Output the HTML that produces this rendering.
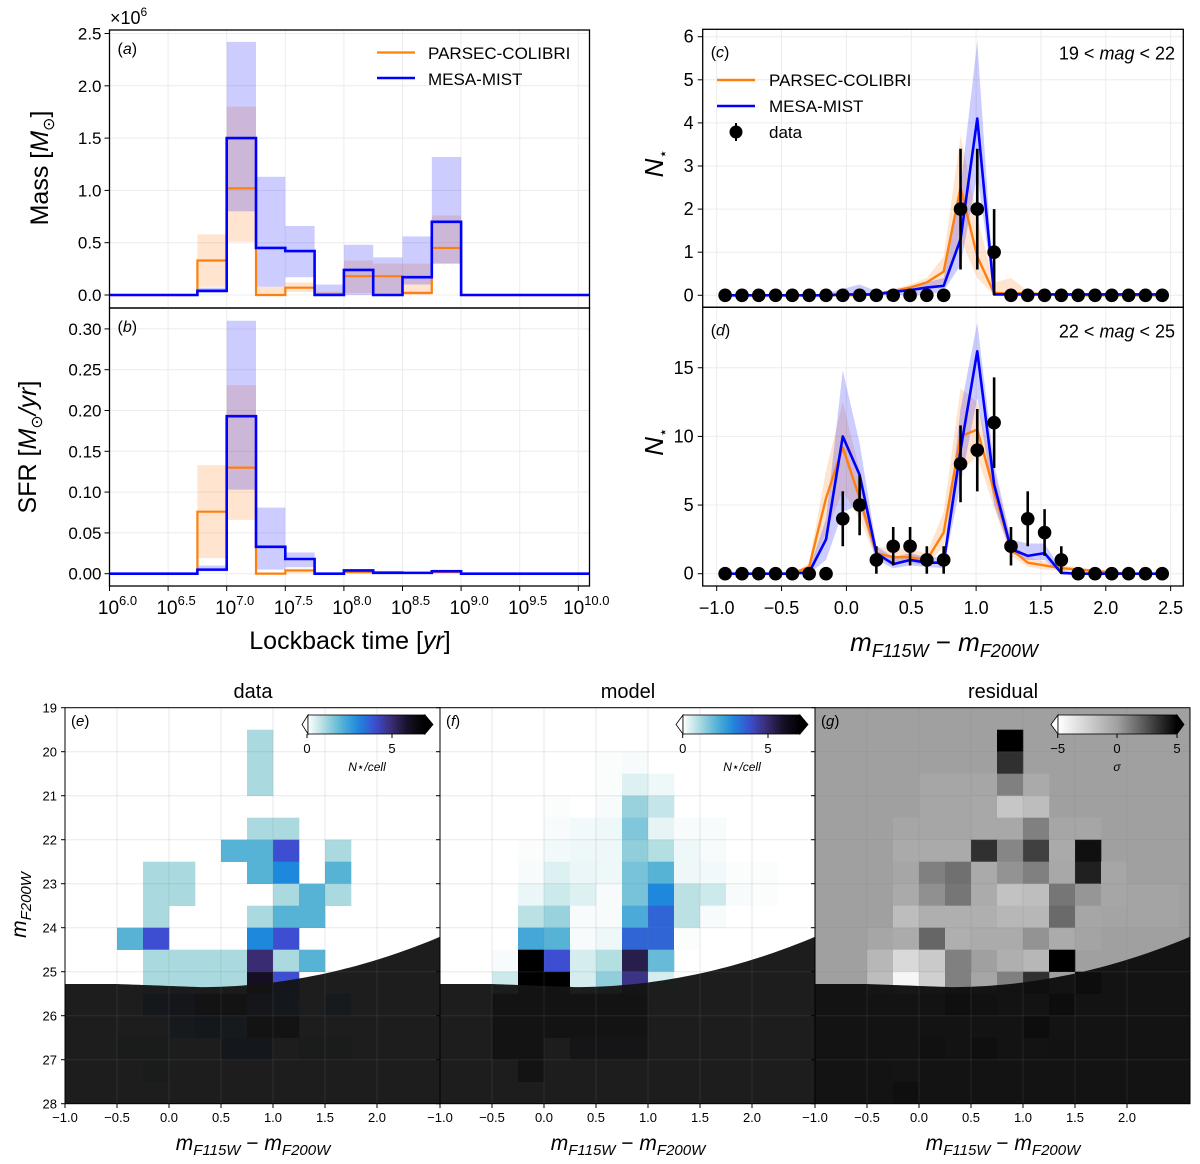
<!DOCTYPE html>
<html><head><meta charset="utf-8"><style>
html,body{margin:0;padding:0;background:#fff;}
svg{display:block;font-family:"Liberation Sans","DejaVu Sans",sans-serif;}
</style></head><body>
<svg id="fig" width="1200" height="1164" viewBox="0 0 1200 1164"></svg>
<script>
// ---------- data: panels a,b ----------
const ageEdges=[6.75,7.0,7.25,7.5,7.75,8.0,8.25,8.5,8.75,9.0];
const massOrange=[0.33,1.02,0.0,0.07,0.01,0.18,0.18,0.02,0.45];
const massBlue=[0.04,1.5,0.45,0.42,0.0,0.24,0.0,0.17,0.7];
const massOrangeLo=[0.08,0.51,0.0,0.03,0.0,0.02,0.0,0.0,0.30];
const massOrangeHi=[0.58,1.80,0.08,0.12,0.03,0.33,0.30,0.30,0.76];
const massBlueLo=[0.02,0.80,0.08,0.17,0.0,0.0,0.0,0.10,0.30];
const massBlueHi=[0.07,2.42,1.13,0.66,0.10,0.48,0.36,0.56,1.32];
const sfrOrange=[0.076,0.130,0.0,0.004,0.0,0.002,0.002,0.001,0.002];
const sfrBlue=[0.005,0.193,0.033,0.018,0.0,0.004,0.001,0.001,0.003];
const sfrOrangeLo=[0.019,0.066,0,0.001,0,0,0,0,0];
const sfrOrangeHi=[0.133,0.231,0.002,0.006,0.001,0.004,0.003,0.002,0.003];
const sfrBlueLo=[0.003,0.103,0.005,0.008,0,0.001,0,0,0.001];
const sfrBlueHi=[0.010,0.310,0.081,0.026,0.001,0.005,0.003,0.002,0.005];
const ageTicks=["6.0","6.5","7.0","7.5","8.0","8.5","9.0","9.5","10.0"];
const massTicks=["0.0","0.5","1.0","1.5","2.0","2.5"];
const sfrTicks=["0.00","0.05","0.10","0.15","0.20","0.25","0.30"];
// ---------- data: panels c,d ----------
const colorCenters=[-0.935,-0.805,-0.676,-0.546,-0.417,-0.287,-0.157,-0.028,0.102,0.231,0.361,0.491,0.620,0.750,0.880,1.009,1.139,1.269,1.398,1.528,1.657,1.787,1.917,2.046,2.176,2.306,2.435];
const cData=[0,0,0,0,0,0,0,0,0,0,0,0,0,0,2,2,1,0,0,0,0,0,0,0,0,0,0];
const cErr=[0,0,0,0,0,0,0,0,0,0,0,0,0,0,1.4,1.4,1,0,0,0,0,0,0,0,0,0,0];
const cOrange=[0,0,0,0,0,0,0,0,0,0.02,0.1,0.18,0.3,0.55,2.5,0.9,0.05,0.05,0.05,0.02,0.02,0,0,0,0,0,0];
const cOrangeLo=[0,0,0,0,0,0,0,0,0,0,0.05,0.1,0.15,0.3,1.3,0.4,0,0,0,0,0,0,0,0,0,0,0];
const cOrangeHi=[0,0,0,0,0,0,0,0,0,0.05,0.15,0.25,0.4,0.9,3.7,1.8,0.3,0.4,0.1,0.05,0,0,0,0,0,0,0];
const cBlue=[0,0,0,0,0,0,0,0.02,0.02,0.02,0.08,0.12,0.18,0.22,1.3,4.1,0.02,0.02,0.02,0.02,0.02,0.02,0.02,0.02,0.02,0.02,0.02];
const cBlueLo=[0,0,0,0,0,0,0,0,0,0,0,0,0,0.1,0.7,2.8,0,0,0,0,0,0,0,0,0,0,0];
const cBlueHi=[0,0,0,0,0,0,0.05,0.15,0.25,0.1,0.1,0.15,0.3,0.4,2.5,5.9,0.1,0.05,0.05,0.05,0.05,0.05,0.05,0.05,0.05,0.05,0.05];
const dData=[0,0,0,0,0,0,0,4,5,1,2,2,1,1,8,9,11,2,4,3,1,0,0,0,0,0,0];
const dErr=[0,0,0,0,0,0,0,2,2.2,1,1.4,1.4,1,1,2.8,3,3.3,1.4,2,1.7,1,0,0,0,0,0,0];
const dOrange=[0,0,0,0,0,0.5,5.5,9.2,5.5,1.5,1.2,1.2,1.0,3.0,10,10.5,6,1.8,0.8,0.6,0.4,0.3,0.2,0.1,0,0,0];
const dOrangeLo=[0,0,0,0,0,0.2,3,6,4,1,0.8,0.8,0.6,2,7.5,8.5,4.8,1.3,0.5,0.3,0.2,0.1,0,0,0,0,0];
const dOrangeHi=[0,0,0,0,0,0.8,7.5,12.5,7.5,2,1.8,1.8,1.5,4.5,13.5,12.5,7.5,2.3,1.2,0.9,0.6,0.5,0.3,0.2,0,0,0];
const dBlue=[0,0,0,0,0,0.1,2.5,10,7.2,1.5,0.7,1.0,0.8,0.8,9,16.2,6.5,1.8,1.3,1.5,0.05,0,0,0,0,0,0];
const dBlueLo=[0,0,0,0,0,0,1,4.5,5,1,0.4,0.6,0.5,0.4,6.5,12.8,5,1.5,1.0,1.0,0,0,0,0,0,0,0];
const dBlueHi=[0,0,0,0,0,0.3,4,14.8,9.5,2,1.2,1.5,1.2,1.2,12,18.3,8,2.5,2.2,2.2,0.3,0,0,0,0,0,0];
const colorTicks=["−1.0","−0.5","0.0","0.5","1.0","1.5","2.0","2.5"];
const colorTickVals=[-1,-0.5,0,0.5,1,1.5,2,2.5];
const cTicks=[0,1,2,3,4,5,6];
const dTicks=[0,5,10,15];
// ---------- data: heatmaps (rows mag 19..28 step 0.5, cols color -1..2.75 step 0.25) ----------
const gridData=[
[0,0,0,0,0,0,0,0,0,0,0,0,0,0,0],
[0,0,0,0,0,0,0,1,0,0,0,0,0,0,0],
[0,0,0,0,0,0,0,1,0,0,0,0,0,0,0],
[0,0,0,0,0,0,0,1,0,0,0,0,0,0,0],
[0,0,0,0,0,0,0,0,0,0,0,0,0,0,0],
[0,0,0,0,0,0,0,1,1,0,0,0,0,0,0],
[0,0,0,0,0,0,2,2,4,0,1,0,0,0,0],
[0,0,0,1,1,0,0,2,3,0,2,0,0,0,0],
[0,0,0,1,1,0,0,0,1,2,1,0,0,0,0],
[0,0,0,1,0,0,0,1,2,2,0,0,0,0,0],
[0,0,2,4,0,0,0,3,4,0,0,0,0,0,0],
[0,0,0,1,1,1,1,5,1,2,0,0,0,0,0],
[0,0,0,1,1,1,1,6,4,0,0,0,0,0,0],
[0,0,0,3,4,7,6,4,3,0,2,0,0,0,0],
[0,0,0,0,2,3,2,7,6,0,0,0,0,0,0],
[0,0,1,1,0,0,3,3,0,1,1,0,0,0,0],
[0,0,0,1,0,0,0,0,0,0,0,0,0,0,0],
[0,0,0,0,0,0,0,0,0,0,0,0,0,0,0]];
const gridModel=[
[0,0,0,0,0,0,0,0,0,0,0,0,0,0,0],
[0,0,0,0,0,0,0,0,0,0,0,0,0,0,0],
[0,0,0,0,0,0,0.05,0.1,0,0,0,0,0,0,0],
[0,0,0,0,0,0,0.05,0.4,0.2,0,0,0,0,0,0],
[0,0,0,0,0.05,0,0.1,1.2,0.7,0,0,0,0,0,0],
[0,0,0,0,0.1,0.15,0.2,1.5,0.3,0.1,0.1,0,0,0,0],
[0,0,0,0.05,0.15,0.2,0.2,1.3,0.9,0.2,0.1,0,0,0,0],
[0,0,0,0.1,0.4,0.25,0.2,1.6,2.0,0.2,0.15,0.05,0.05,0,0],
[0,0,0,0.25,0.6,0.4,0.1,1.6,3.0,0.8,0.6,0.1,0.05,0,0],
[0,0,0,0.8,1.2,0.1,0.1,2.2,3.6,0.8,0.1,0,0,0,0],
[0,0,0,2.3,2.0,0.1,0.2,3.6,3.6,0.05,0,0,0,0,0],
[0,0,0.1,7,4,0.5,0.9,5.5,1.8,0,0,0,0,0,0],
[0,0,0.6,7,7,0.5,1.3,4.8,0.5,0,0,0,0,0,0],
[0,0,6,7,7,6,6.5,6.5,0,0,0,0,0,0,0],
[0,0,7,7,7,6.5,7,6.5,0,0,0,0,0,0,0],
[0,0,6,7,0,5,5,5,0,0,0,0,0,0,0],
[0,0,0,6,0,0,0,0,0,0,0,0,0,0,0],
[0,0,0,0,0,0,0,0,0,0,0,0,0,0,0]];
const gridResid=[
[0,0,0,0,0,0,0,0,0,0,0,0,0,0,0],
[0,0,0,0,0,0,0,5,0,0,0,0,0,0,0],
[0,0,0,0,0,0,0,3.5,0,0,0,0,0,0,0],
[0,0,0,0,-0.3,-0.3,-0.3,1,-0.5,0,0,0,0,0,0],
[0,0,0,0,-0.3,-0.3,-0.4,-2,-1.5,0,0,0,0,0,0],
[0,0,0,-0.3,-0.3,-0.3,-0.4,-0.4,1,-0.3,-0.3,0,0,0,0],
[0,0,0,-0.5,-0.5,-0.5,3.5,0.8,3,-0.5,4.5,0,0,0,0],
[0,0,0,-0.3,1,1.5,-0.5,0.4,1,-0.4,4,-0.3,0,0,0],
[0,0,0,-0.5,0.5,1.3,-0.6,-1.8,-1.6,1.3,0.3,-0.3,-0.2,-0.2,0],
[0,0,0,-1.5,-0.8,-0.8,-0.8,-1.2,-1.2,1.7,-0.3,-0.2,-0.2,-0.2,0],
[0,0,-0.3,-0.6,1.8,-0.8,-0.6,-0.6,0.4,-0.6,-0.2,0,0,0,0],
[0,0,-1.2,-3,-2.2,1,0,-0.8,-1.2,5,0,0,0,0,0],
[0,0,-1.5,-4.5,-2.5,1,-0.3,1,3.5,0,5,0,0,0,0],
[0,0,0,0,0,3,2,0,0,5,0,0,0,0,0],
[0,0,0,0,0,0,0,0,5,0,0,0,0,0,0],
[0,0,0,0,2,0,3,0,0,1,0,0,0,0,0],
[0,0,0,-1,0,0,0,0,0,0,0,0,0,0,0],
[0,0,0,3,0,0,0,0,0,0,0,0,0,0,0]];
const magTicks=[19,20,21,22,23,24,25,26,27,28];
const heatTicks=["−1.0","−0.5","0.0","0.5","1.0","1.5","2.0"];
const heatTickVals=[-1,-0.5,0,0.5,1,1.5,2];

// ---------- helpers ----------
const NS='http://www.w3.org/2000/svg';
const svg=document.getElementById('fig');
function mk(tag,attrs,parent){const e=document.createElementNS(NS,tag);for(const k in attrs)e.setAttribute(k,attrs[k]);(parent||svg).appendChild(e);return e;}
function txt(x,y,s,size,anchor,parent,extra){const e=mk('text',Object.assign({x:x,y:y,'font-size':size,'text-anchor':anchor||'middle',fill:'#000'},extra||{}),parent);e.textContent=s;return e;}
function tsp(parent,s,attrs){const t=mk('tspan',attrs||{},parent);t.textContent=s;return t;}

// ================= panels a & b =================
const AX0=109.5, AX1=589.5;
const ax=v=>AX0+(v-6.0)*117.2;
const aY=v=>295-v*104.6;
const bY=v=>573.7-v*816;
function stepPath(vals,yf){let d=`M${AX0},${yf(0)} L${ax(ageEdges[0])},${yf(0)}`;for(let i=0;i<vals.length;i++){d+=` L${ax(ageEdges[i])},${yf(vals[i])} L${ax(ageEdges[i+1])},${yf(vals[i])}`;}d+=` L${ax(ageEdges[ageEdges.length-1])},${yf(0)} L${AX1},${yf(0)}`;return d;}
function histPanel(name,top,bot,yf,ticks,tickVals,lo1,hi1,lo2,hi2,v1,v2,label){
  const g=mk('g',{});
  
  
  for(const t of [6,6.5,7,7.5,8,8.5,9,9.5,10]){const l=mk('line',{x1:ax(t),x2:ax(t),y1:top,y2:bot,stroke:'#ececec','stroke-width':1},g);}
  tickVals.forEach((v,i)=>{const l=mk('line',{x1:AX0,x2:AX1,y1:yf(v),y2:yf(v),stroke:'#ececec','stroke-width':1},g);
    const tk=mk('line',{x1:AX0-5,x2:AX0,y1:yf(v),y2:yf(v),stroke:'#000'},g);
    const tl=txt(AX0-8,yf(v)+6,ticks[i],17,'end',g);});
  for(let i=0;i<v1.length;i++){
    const r1=mk('rect',{x:ax(ageEdges[i]),width:ax(ageEdges[i+1])-ax(ageEdges[i]),y:yf(hi1[i]),height:Math.max(0,yf(lo1[i])-yf(hi1[i])),fill:'#ff7f0e','fill-opacity':0.2},g);
    
    const r2=mk('rect',{x:ax(ageEdges[i]),width:ax(ageEdges[i+1])-ax(ageEdges[i]),y:yf(hi2[i]),height:Math.max(0,yf(lo2[i])-yf(hi2[i])),fill:'#0000ff','fill-opacity':0.2},g);
    
  }
  const p1=mk('path',{d:stepPath(v1,yf),fill:'none',stroke:'#ff7f0e','stroke-width':2.2},g);
  
  const p2=mk('path',{d:stepPath(v2,yf),fill:'none',stroke:'#0000ff','stroke-width':2.6},g);
  
  const fr=mk('rect',{x:AX0,y:top,width:AX1-AX0,height:bot-top,fill:'none',stroke:'#000','stroke-width':1.3},g);
  
  const pl=txt(AX0+8,top+24,'',16,'start',g);tsp(pl,'(');tsp(pl,label,{'font-style':'italic'});tsp(pl,')');
  
  return g;
}
histPanel('mass-panel',30,308,aY,massTicks,[0,0.5,1,1.5,2,2.5],massOrangeLo,massOrangeHi,massBlueLo,massBlueHi,massOrange,massBlue,'a');
histPanel('sfr-panel',308,586,bY,sfrTicks,[0,0.05,0.1,0.15,0.2,0.25,0.3],sfrOrangeLo,sfrOrangeHi,sfrBlueLo,sfrBlueHi,sfrOrange,sfrBlue,'b');
ageTicks.forEach(s=>{const v=parseFloat(s);const tk=mk('line',{x1:ax(v),x2:ax(v),y1:586,y2:591,stroke:'#000'});
  const t=txt(ax(v)+8,614,'',19,'middle');tsp(t,'10');tsp(t,s,{'font-size':13,dy:-9});});
{const t=txt(110,24,'',18,'start');tsp(t,'×10');tsp(t,'6',{'font-size':12,dy:-8});}
{const t=txt(0,0,'',25,'middle',svg,{transform:'translate(48,168) rotate(-90)'});tsp(t,'Mass [');tsp(t,'M',{'font-style':'italic'});tsp(t,'⊙',{'font-size':16,dy:6});tsp(t,']',{dy:-6});}
{const t=txt(0,0,'',25,'middle',svg,{transform:'translate(36,447) rotate(-90)'});tsp(t,'SFR [');tsp(t,'M',{'font-style':'italic'});tsp(t,'⊙',{'font-size':16,dy:6});tsp(t,'/yr',{dy:-6,'font-style':'italic'});tsp(t,']');}
{const t=txt(350,649,'',25,'middle');tsp(t,'Lockback time [');tsp(t,'yr',{'font-style':'italic'});tsp(t,']');}
{const g=mk('g',{});
 const l1=mk('line',{x1:377,x2:415,y1:52.5,y2:52.5,stroke:'#ff7f0e','stroke-width':2.2},g);
 const t1=txt(428,59,'PARSEC-COLIBRI',17,'start',g);
 const l2=mk('line',{x1:377,x2:415,y1:78,y2:78,stroke:'#0000ff','stroke-width':2.6},g);
 const t2=txt(428,85,'MESA-MIST',17,'start',g);}

// ================= panels c & d =================
const CX0=702.7, CX1=1183.3;
const cx=v=>716.7+(v+1)*129.7;
const cY=v=>295.3-v*43.1;
const dY=v=>573.7-v*13.73;
function linePanel(name,top,bot,yf,ticks,data,err,o,oLo,oHi,b,bLo,bHi,label,rangeTxt){
  const g=mk('g',{});
  
  
  colorTickVals.forEach(v=>{const l=mk('line',{x1:cx(v),x2:cx(v),y1:top,y2:bot,stroke:'#ececec'},g);});
  ticks.forEach(v=>{const l=mk('line',{x1:CX0,x2:CX1,y1:yf(v),y2:yf(v),stroke:'#ececec'},g);
    const tk=mk('line',{x1:CX0-5,x2:CX0,y1:yf(v),y2:yf(v),stroke:'#000'},g);
    const tl=txt(CX0-9,yf(v)+6,String(v),18,'end',g);});
  function band(lo,hi,col,nm){let pts=[];for(let i=0;i<colorCenters.length;i++)pts.push(cx(colorCenters[i])+','+yf(hi[i]));for(let i=colorCenters.length-1;i>=0;i--)pts.push(cx(colorCenters[i])+','+yf(lo[i]));
    const p=mk('polygon',{points:pts.join(' '),fill:col,'fill-opacity':0.2},g);}
  band(oLo,oHi,'#ff7f0e','parsec-band');band(bLo,bHi,'#0000ff','mist-band');
  function line(v,col,w,nm){const p=mk('polyline',{points:v.map((y,i)=>cx(colorCenters[i])+','+yf(y)).join(' '),fill:'none',stroke:col,'stroke-width':w,'stroke-linejoin':'round'},g);}
  line(o,'#ff7f0e',2.4,'parsec-colibri-line');line(b,'#0000ff',2.6,'mesa-mist-line');
  for(let i=0;i<data.length;i++){
    if(err[i]>0){const e=mk('line',{x1:cx(colorCenters[i]),x2:cx(colorCenters[i]),y1:yf(Math.max(0,data[i]-err[i])),y2:yf(data[i]+err[i]),stroke:'#000','stroke-width':2.6},g);}
    const c=mk('circle',{cx:cx(colorCenters[i]),cy:yf(data[i]),r:6.8,fill:'#000'},g);
  }
  const fr=mk('rect',{x:CX0,y:top,width:CX1-CX0,height:bot-top,fill:'none',stroke:'#000','stroke-width':1.3},g);
  const pl=txt(CX0+8,top+28,'',16,'start',g);tsp(pl,'(');tsp(pl,label,{'font-style':'italic'});tsp(pl,')');
  const rt=txt(1175,top+30,'',18,'end',g);tsp(rt,rangeTxt[0]+' < ');tsp(rt,'mag',{'font-style':'italic'});tsp(rt,' < '+rangeTxt[1]);
  const yl=txt(0,0,'',26,'middle',g,{transform:`translate(${663},${(top+bot)/2-5}) rotate(-90)`});tsp(yl,'N',{'font-style':'italic'});tsp(yl,'⋆',{'font-size':15,dy:5});
}
linePanel('color-panel-bright',29.3,307.3,cY,cTicks,cData,cErr,cOrange,cOrangeLo,cOrangeHi,cBlue,cBlueLo,cBlueHi,'c',['19','22']);
linePanel('color-panel-faint',307.3,586,dY,dTicks,dData,dErr,dOrange,dOrangeLo,dOrangeHi,dBlue,dBlueLo,dBlueHi,'d',['22','25']);
colorTicks.forEach((s,i)=>{const v=colorTickVals[i];const tk=mk('line',{x1:cx(v),x2:cx(v),y1:586,y2:591,stroke:'#000'});
  const t=txt(cx(v),614,s,18,'middle');});
{const t=txt(944,651,'',26,'middle');tsp(t,'m',{'font-style':'italic'});tsp(t,'F115W',{'font-style':'italic','font-size':18,dy:6});tsp(t,' − ',{dy:-6});tsp(t,'m',{'font-style':'italic'});tsp(t,'F200W',{'font-style':'italic','font-size':18,dy:6});}
{const g=mk('g',{});
 const l1=mk('line',{x1:717,x2:755,y1:80,y2:80,stroke:'#ff7f0e','stroke-width':2.4},g);
 const t1=txt(769,86,'PARSEC-COLIBRI',17,'start',g);
 const l2=mk('line',{x1:717,x2:755,y1:106,y2:106,stroke:'#0000ff','stroke-width':2.6},g);
 const t2=txt(769,112,'MESA-MIST',17,'start',g);
 const eb=mk('line',{x1:736,x2:736,y1:123,y2:141,stroke:'#000','stroke-width':2},g);
 const m=mk('circle',{cx:736,cy:132,r:6.5,fill:'#000'},g);
 const t3=txt(769,138,'data',17,'start',g);}

// ================= heatmaps =================
const HY=v=>707.7+(v-19)*44;
const blueStops=[[0,[255,255,255]],[1,[170,218,223]],[2,[86,179,214]],[3,[29,136,220]],[4,[61,78,210]],[5,[58,44,114]],[6,[22,15,36]],[7,[0,0,0]]];
function blueCmap(v){v=Math.max(0,Math.min(7,v));for(let i=0;i<blueStops.length-1;i++){const a=blueStops[i],b=blueStops[i+1];if(v<=b[0]){const f=(v-a[0])/(b[0]-a[0]);return 'rgb('+a[1].map((c,k)=>Math.round(c+(b[1][k]-c)*f)).join(',')+')';}}return 'rgb(0,0,0)';}
function greyCmap(v){v=Math.max(-5,Math.min(5,v));const g=v<0?160+(-v/5)*95:160-(v/5)*160;const c=Math.round(g);return `rgb(${c},${c},${c})`;}
function maskMag(x){if(x<=-0.5)return 25.28;if(x<=0.3)return 25.28+(x+0.5)/0.8*0.07;return 25.35-0.215*(x-0.3)*(x-0.3);}
function heatPanel(name,x0,grid,cmap,maskFill,title,label,showY){
  const hx=v=>x0+(v+1)*104;
  const g=mk('g',{});
  
  
  const cp=mk('clipPath',{id:'clip-'+name},g);mk('rect',{x:x0,y:707.7,width:375,height:396},cp);
  const inner=mk('g',{'clip-path':`url(#clip-${name})`},g);
  const bg=mk('rect',{x:x0,y:707.7,width:375,height:396,fill:cmap(0)},inner);
  for(let r=0;r<grid.length;r++)for(let c=0;c<grid[r].length;c++){
    if(grid[r][c]===0)continue;
    const x=-1+0.25*c, m=19+0.5*r;
    const cell=mk('rect',{x:hx(x),y:HY(m),width:hx(x+0.25)-hx(x)+0.3,height:HY(m+0.5)-HY(m)+0.3,fill:cmap(grid[r][c])},inner);
    
  }
  let d=`M${x0},${HY(28)}`;for(let x=-1;x<=2.61;x+=0.05)d+=` L${hx(x)},${HY(maskMag(x))}`;d+=` L${x0+375},${HY(maskMag(2.6))} L${x0+375},${HY(28)} Z`;
  const mask=mk('path',{d:d,fill:maskFill,'fill-opacity':0.96},inner);
  heatTickVals.forEach(v=>{const l=mk('line',{x1:hx(v),x2:hx(v),y1:707.7,y2:1103.7,stroke:'rgba(128,128,128,0.18)'},inner);});
  magTicks.forEach(v=>{const l=mk('line',{x1:x0,x2:x0+375,y1:HY(v),y2:HY(v),stroke:'rgba(128,128,128,0.18)'},inner);
    const tk=mk('line',{x1:x0-4,x2:x0,y1:HY(v),y2:HY(v),stroke:'#000'},g);
    if(showY){const t=txt(x0-8,HY(v)+5,String(v),13,'end',g);}});
  heatTicks.forEach((s,i)=>{const v=heatTickVals[i];const tk=mk('line',{x1:hx(v),x2:hx(v),y1:1103.7,y2:1108,stroke:'#000'},g);
    const t=txt(hx(v),1122,s,13,'middle',g);});
  const fr=mk('rect',{x:x0,y:707.7,width:375,height:396,fill:'none',stroke:'#000','stroke-width':1},g);
  const tt=txt(x0+188,698,title,20,'middle',g);
  const pl=txt(x0+6,726,'',15,'start',g);tsp(pl,'(');tsp(pl,label,{'font-style':'italic'});tsp(pl,')');
  const xl=txt(x0+188,1150,'',21,'middle',g);tsp(xl,'m',{'font-style':'italic'});tsp(xl,'F115W',{'font-style':'italic','font-size':15,dy:5});tsp(xl,' − ',{dy:-5});tsp(xl,'m',{'font-style':'italic'});tsp(xl,'F200W',{'font-style':'italic','font-size':15,dy:5});
  
  return g;
}
heatPanel('data-heatmap',65,gridData,blueCmap,'#141414','data','e',true);
heatPanel('model-heatmap',440,gridModel,blueCmap,'#141414','model','f',false);
heatPanel('residual-heatmap',815,gridResid,greyCmap,'#0e0e0e','residual','g',false);
{const t=txt(0,0,'',21,'middle',svg,{transform:'translate(26,905) rotate(-90)'});tsp(t,'m',{'font-style':'italic'});tsp(t,'F200W',{'font-style':'italic','font-size':15,dy:5});}

const defs=mk('defs',{});
function grad(id,fn,vmin,vmax){const lg=mk('linearGradient',{id:id,x1:0,x2:1,y1:0,y2:0},defs);for(let i=0;i<=20;i++){const v=vmin+(vmax-vmin)*i/20;mk('stop',{offset:i/20,'stop-color':fn(v)},lg);}}
grad('gBlue',blueCmap,0,7);grad('gGrey',greyCmap,-5,5);
function cbar(name,x0,x1,tipL,tipR,gradId,lowCol,highCol,ticks,tickX,lab,labX){
  const g=mk('g',{});
  const y0=715,y1=734,ym=724.5;
  const p=mk('polygon',{points:`${tipL},${ym} ${x0},${y0} ${x0},${y1}`,fill:lowCol,stroke:'#000','stroke-width':0.8},g);
  const p2=mk('polygon',{points:`${tipR},${ym} ${x1},${y0} ${x1},${y1}`,fill:highCol,stroke:'#000','stroke-width':0.8},g);
  const r=mk('rect',{x:x0,y:y0,width:x1-x0,height:y1-y0,fill:`url(#${gradId})`,stroke:'#000','stroke-width':0.8},g);
  ticks.forEach((s,i)=>{const tk=mk('line',{x1:tickX[i],x2:tickX[i],y1:y1,y2:y1+4,stroke:'#000'},g);
    const t=txt(tickX[i],y1+19,s,13,'middle',g);});
  const l=txt(labX,771,lab,12,'middle',g,{'font-style':'italic'});
}
cbar('data-colorbar',308,425,302,433,'gBlue','#fff','#000',['0','5'],[307,392],'N⋆/cell',367);
cbar('model-colorbar',683,800,676,808,'gBlue','#fff','#000',['0','5'],[682.7,768],'N⋆/cell',742);
cbar('residual-colorbar',1058,1177,1051,1184,'gGrey','#fff','#000',['−5','0','5'],[1057.7,1117,1177],'σ',1117);
</script>
</body></html>
